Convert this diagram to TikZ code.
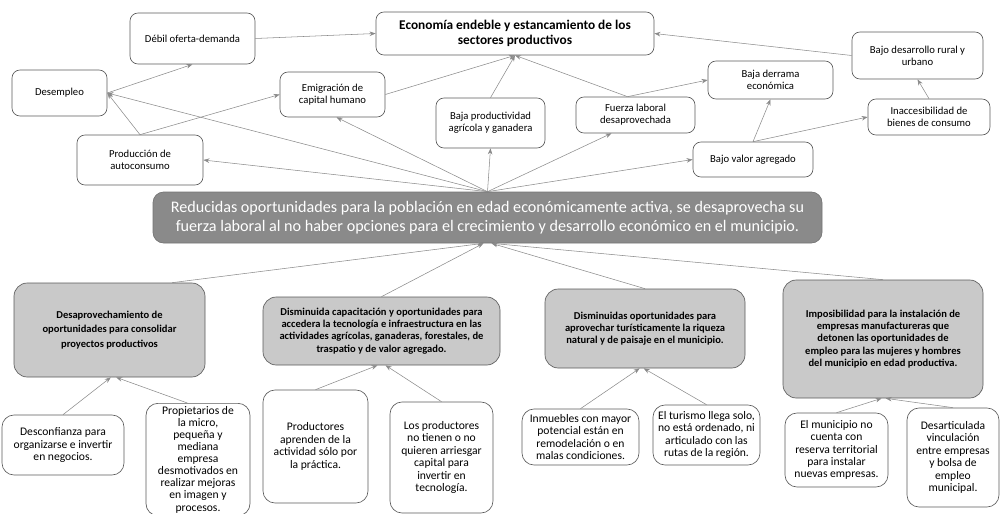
\documentclass[tikz,border=0pt]{standalone}
\usepackage{fontspec}
\setmainfont{Carlito}
\usetikzlibrary{arrows.meta}
\definecolor{pbLine}{HTML}{8A8A8A}
\definecolor{pbEdge}{HTML}{5A5A5A}
\definecolor{pbCause}{HTML}{C9C9C9}
\definecolor{pbCore}{HTML}{8A8A8A}
\tikzset{
  pbnode/.style={
    draw=pbEdge, rounded corners=6pt, align=center, line width=0.5pt,
    inner sep=2pt, fill=white
  },
  efecto/.style={pbnode, font=\fontsize{8}{8.8}\selectfont},
  titulo/.style={pbnode, font=\fontsize{10}{11.4}\selectfont\bfseries},
  nucleo/.style={pbnode, fill=pbCore, draw=pbCore!85!black, text=white, rounded corners=8pt,
    font=\fontsize{12.1}{14.5}\selectfont},
  causa/.style={pbnode, fill=pbCause, rounded corners=10pt, font=\fontsize{7.9}{9.1}\selectfont\bfseries},
  subcausa/.style={pbnode, rounded corners=9pt, font=\fontsize{8.7}{9.3}\selectfont},
  liga/.style={-{Stealth[length=1.6mm, width=1.2mm]}, draw=pbLine, line width=0.4pt}
}

\begin{document}
\begin{tikzpicture}[x=0.75pt, y=-0.75pt]
  \useasboundingbox (0,0) rectangle (1001,514);
  \clip (0,0) rectangle (1001,514);

  % efectos
  \node[titulo, minimum width=208.5pt, minimum height=32.25pt] (econ) at (515,33.5) {Economía endeble y estancamiento de los\\sectores productivos};
  \node[efecto, minimum width=93.75pt, minimum height=38.25pt] (debil) at (192.5,38.5) {Débil oferta-demanda};
  \node[efecto, minimum width=71.25pt, minimum height=34.5pt] (desempleo) at (59.5,93) {Desempleo};
  \node[efecto, minimum width=78.75pt, minimum height=33.75pt] (emigracion) at (332.5,94.5) {Emigración de\\capital humano};
  \node[efecto, minimum width=94.5pt, minimum height=37.5pt] (produccion) at (140,160) {Producción de\\autoconsumo};
  \node[efecto, minimum width=81.75pt, minimum height=37.5pt] (bajaprod) at (490.5,123) {Baja productividad\\agrícola y ganadera};
  \node[efecto, minimum width=89.25pt, minimum height=27pt] (fuerza) at (635.5,115) {Fuerza laboral\\desaprovechada};
  \node[efecto, minimum width=93.75pt, minimum height=28.5pt] (derrama) at (770.5,80) {Baja derrama\\económica};
  \node[efecto, minimum width=98.25pt, minimum height=35.25pt] (desarrollo) at (917.5,55.5) {Bajo desarrollo rural y\\urbano};
  \node[efecto, minimum width=91.5pt, minimum height=27pt] (inacces) at (929,117) {Inaccesibilidad de\\bienes de consumo};
  \node[efecto, minimum width=90pt, minimum height=26.25pt] (valor) at (753,159.5) {Bajo valor agregado};

  % problema central
  \node[nucleo, minimum width=501.75pt, minimum height=38.25pt] (central) at (487.5,217.5) {Reducidas oportunidades para la población  en edad económicamente activa, se desaprovecha su\\fuerza laboral al no haber opciones para el crecimiento y desarrollo económico en el municipio.};

  % causas
  \node[causa, minimum width=143.25pt, minimum height=70.5pt, font=\fontsize{7.9}{11}\selectfont\bfseries] (desaprov) at (109.5,330) {Desaprovechamiento de\\oportunidades para consolidar\\proyectos productivos};
  \node[causa, minimum width=177.75pt, minimum height=51pt] (capacit) at (381.5,331) {Disminuida capacitación y oportunidades  para\\accedera la tecnología e infraestructura  en las\\actividades agrícolas, ganaderas, forestales, de\\traspatio y de valor agregado.};
  \node[causa, minimum width=150pt, minimum height=59.25pt] (turist) at (645,328.5) {Disminuidas oportunidades para\\aprovechar turísticamente la riqueza\\natural y de paisaje en el municipio.};
  \node[causa, minimum width=150pt, minimum height=88.5pt] (imposib) at (883,339) {Imposibilidad para la instalación de\\empresas manufactureras que\\detonen las oportunidades de\\empleo para las mujeres y hombres\\del municipio en edad productiva.};

  % subcausas
  \node[subcausa, minimum width=91.5pt, minimum height=45pt] (desconf) at (63,445) {Desconfianza para\\organizarse e invertir\\en negocios.};
  \node[subcausa, minimum width=78pt, anchor=north, font=\fontsize{8.7}{9.1}\selectfont] (propiet) at (198,403) {Propietarios de\\la micro,\\pequeña y\\mediana\\empresa\\desmotivados en\\realizar mejoras\\en imagen y\\procesos.};
  \node[subcausa, minimum width=78.75pt, minimum height=84.75pt] (aprenden) at (315.5,446.5) {Productores\\aprenden de la\\actividad sólo por\\la práctica.};
  \node[subcausa, minimum width=77.25pt, minimum height=83.25pt] (arriesgar) at (441.5,457.5) {Los productores\\no tienen o no\\quieren arriesgar\\capital para\\invertir en\\tecnología.};
  \node[subcausa, minimum width=87.75pt, minimum height=42pt] (inmuebles) at (580.5,437) {Inmuebles con mayor\\potencial están en\\remodelación o en\\malas condiciones.};
  \node[subcausa, minimum width=80.25pt, minimum height=45pt] (turismo) at (706.5,435) {El turismo llega solo,\\no está ordenado, ni\\articulado con las\\rutas de la región.};
  \node[subcausa, minimum width=77.25pt, minimum height=55.5pt] (municipio) at (836.5,450) {El municipio no\\cuenta con\\reserva territorial\\para instalar\\nuevas empresas.};
  \node[subcausa, minimum width=69pt, minimum height=74.25pt] (desartic) at (953,457.5) {Desarticulada\\vinculación\\entre empresas\\y bolsa de\\empleo\\municipal.};

  % problema central hacia efectos
  \draw[liga] (central.north) -- (desempleo.east);
  \draw[liga] (central.north) -- (produccion.east);
  \draw[liga] (central.north) -- ([xshift=3pt]emigracion.south);
  \draw[liga] (central.north) -- (bajaprod.south);
  \draw[liga] (central.north) -- ([xshift=-18pt]fuerza.south);
  \draw[liga] (central.north) -- (valor.west);
  \draw[liga] (produccion.north) -- (desempleo.east);
  \draw[liga] (produccion.north) -- (emigracion.west);
  \draw[liga] (desempleo.east) -- (debil.south);
  \draw[liga] (debil.east) -- (econ.west);
  \draw[liga] (emigracion.east) -- (econ.south);
  \draw[liga] (bajaprod.north) -- (econ.south);
  \draw[liga] ([xshift=-6pt]fuerza.north) -- (econ.south);
  \draw[liga] ([xshift=-6pt]fuerza.north) -- (derrama.west);
  \draw[liga] (valor.north) -- (derrama.south);
  \draw[liga] (valor.north) -- (inacces.west);
  \draw[liga] (inacces.north) -- (desarrollo.south);
  \draw[liga] (desarrollo.west) -- (econ.east);

  % causas hacia problema central
  \draw[liga] ([xshift=47pt]desaprov.north) -- ([xshift=-3pt]central.south);
  \draw[liga] (capacit.north) -- ([xshift=-3pt]central.south);
  \draw[liga] (turist.north) -- ([xshift=3pt]central.south);
  \draw[liga] (imposib.north) -- ([xshift=3pt]central.south);

  % subcausas hacia causas
  \draw[liga] (desconf.north) -- ([xshift=1pt]desaprov.south);
  \draw[liga] ([xshift=-8pt]propiet.north) -- ([xshift=5pt]desaprov.south);
  \draw[liga] (aprenden.north) -- ([xshift=-3pt]capacit.south);
  \draw[liga] (arriesgar.north) -- ([xshift=3pt]capacit.south);
  \draw[liga] (inmuebles.north) -- ([xshift=-4pt]turist.south);
  \draw[liga] (turismo.north) -- ([xshift=-1pt]turist.south);
  \draw[liga] (municipio.north) -- ([xshift=-1pt]imposib.south);
  \draw[liga] (desartic.north) -- ([xshift=2pt]imposib.south);
\end{tikzpicture}
\end{document}
